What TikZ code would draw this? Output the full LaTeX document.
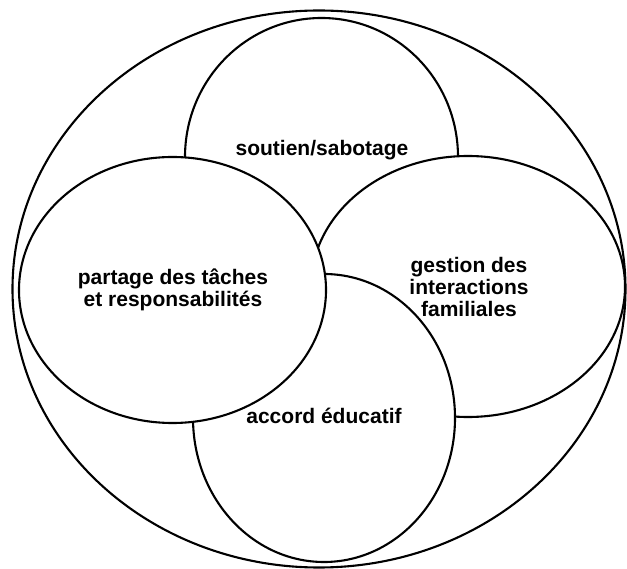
\documentclass[tikz,border=0pt]{standalone}
\usepackage{fontspec}
\setmainfont{Liberation Sans}
\usepackage{tikz}

\begin{document}
\begin{tikzpicture}[y=1pt,x=1pt,yscale=-1, inner sep=0pt, outer sep=0pt,
    bubble/.style={draw=black,fill=white,line width=2.1pt},
    bubtext/.style={font=\fontsize{21}{22}\selectfont\bfseries,align=center}]
  \useasboundingbox (0,0) rectangle (627,569);
    \path[draw=black,line width=2.1pt] (319.0000,289.0000) ellipse (306.5000 and
      278.5000);
    \path[bubble] (321.5000,157.0000) ellipse (136.5000 and 139.0000);
    \path[bubble] (468.0000,286.5000) ellipse (157.0000 and 130.5000);
    \path[bubble] (324.0000,418.0000) ellipse (131.0000 and 144.0000);
    \path[bubble] (172.5000,290.0000) ellipse (153.5000 and 133.0000);
  \node[bubtext] (soutien) at (322.0000,150.0000) {soutien/sabotage};
  \node[bubtext] (gestion) at (469.0000,287.0000) {gestion des\\interactions\\familiales};
  \node[bubtext] (accord) at (324.0000,416.0000) {accord éducatif};
  \node[bubtext] (partage) at (173.0000,290.0000) {partage des tâches\\et responsabilités};

  \end{tikzpicture}
\end{document}
